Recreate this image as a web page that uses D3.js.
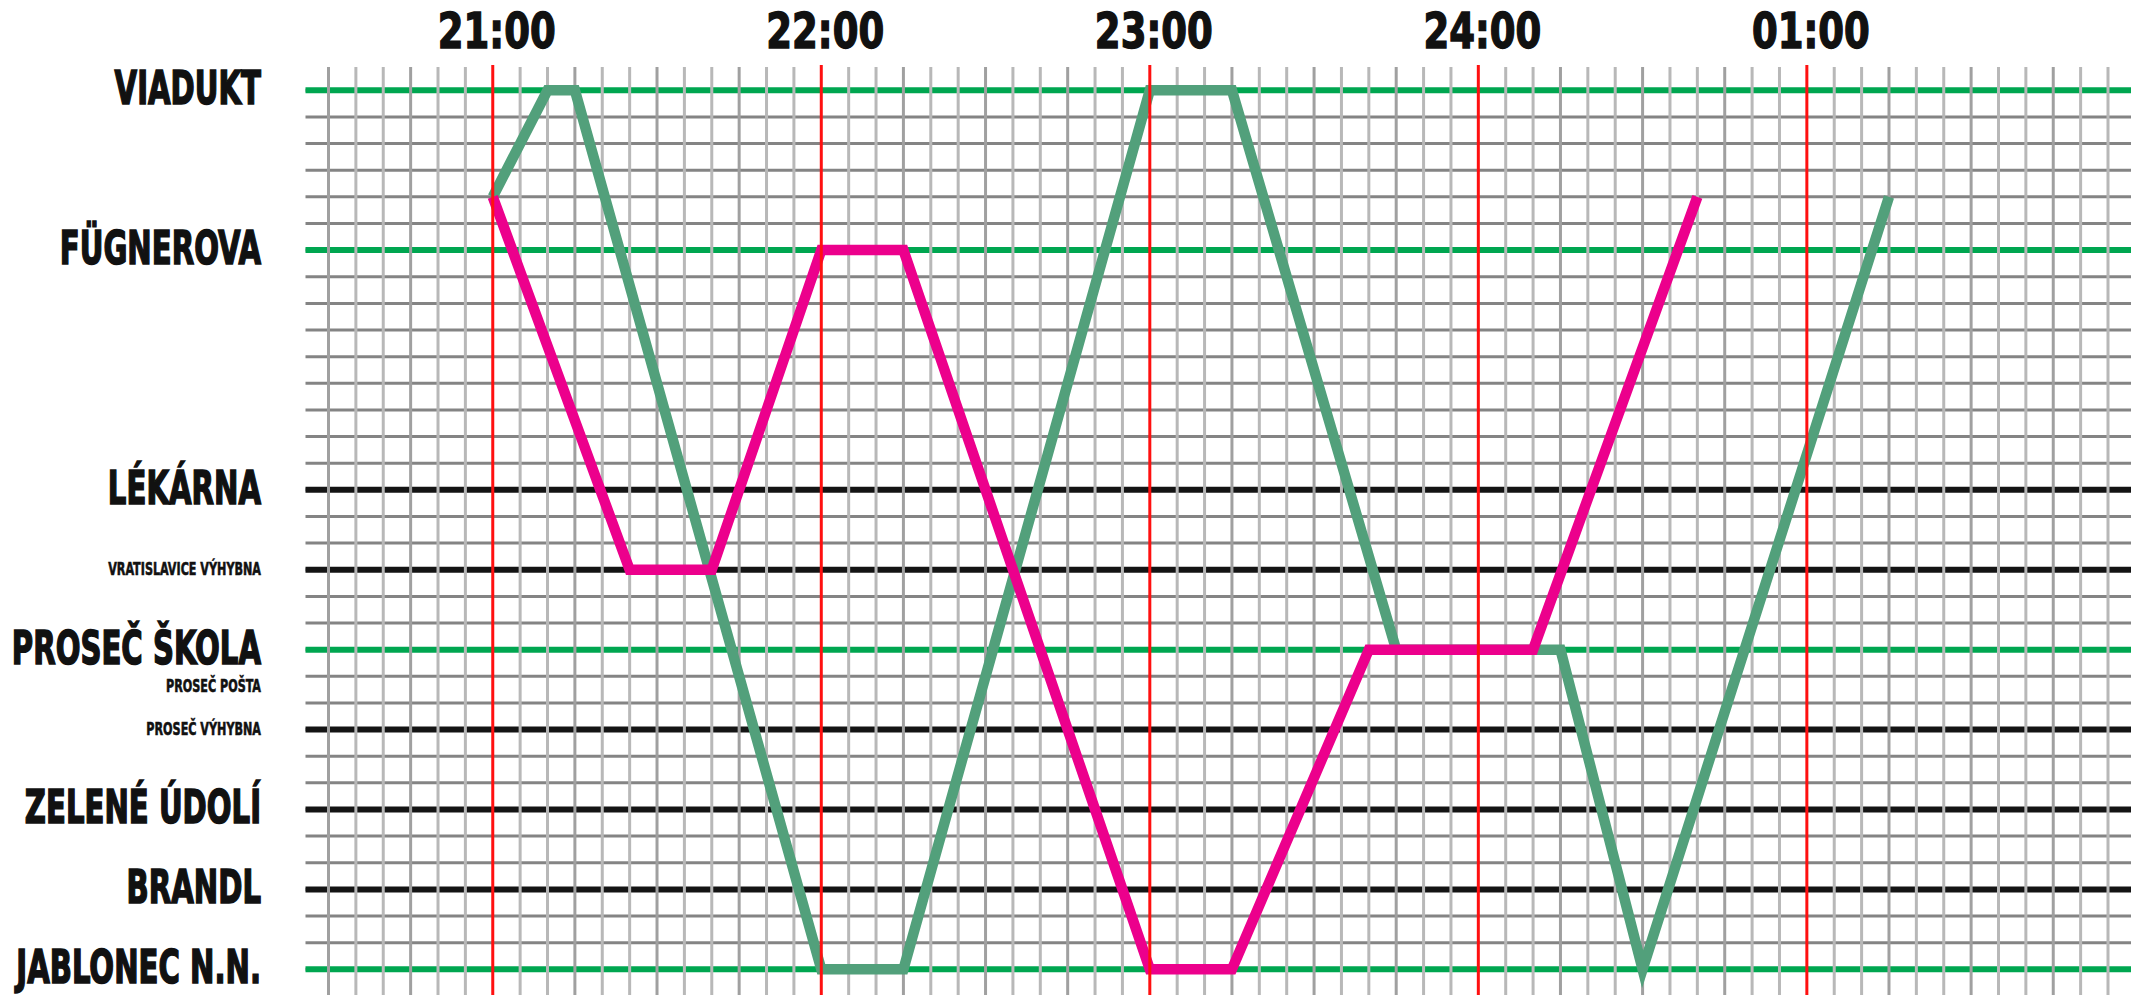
<!DOCTYPE html>
<html>
<head>
<meta charset="utf-8">
<script src="https://cdn.jsdelivr.net/npm/d3@7"></script>
<style>
  body { margin: 0; background: #fff; }
  text { font-family: "Liberation Sans Narrow", "DejaVu Sans Condensed", "Liberation Sans", sans-serif; font-weight: bold; fill: #111; stroke: #111; }
</style>
</head>
<body>
<div id="chart"></div>
<script>
// stations: position along the line (grid rows), kind of stop
const stations = ["VIADUKT", "FÜGNEROVA", "LÉKÁRNA", "VRATISLAVICE VÝHYBNA", "PROSEČ ŠKOLA",
                  "PROSEČ POŠTA", "PROSEČ VÝHYBNA", "ZELENÉ ÚDOLÍ", "BRANDL", "JABLONEC N.N."];
const stationPos = [0, 6, 15, 18, 21, 22, 24, 27, 30, 33];
const stationKind = ["main", "main", "halt", "loop", "main", "minor", "loop", "halt", "halt", "main"];

// hour marks, minutes after 21:00
const hourMinutes = [0, 60, 120, 180, 240];
const hourLabels = ["21:00", "22:00", "23:00", "24:00", "01:00"];

// green train (minutes after 21:00, position)
const greenTimes = [0, 10, 15, 60, 75, 120, 135, 165, 195, 210, 255];
const greenPos   = [4, 0, 0, 33, 33, 0, 0, 21, 21, 33, 4];

// magenta train
const pinkTimes = [0, 25, 40, 60, 75, 120, 135, 160, 190, 220];
const pinkPos   = [4, 18, 18, 6, 6, 33, 33, 21, 21, 4];

const width = 2142, height = 995;
const svg = d3.select("#chart").append("svg")
    .attr("width", width)
    .attr("height", height);

const x = d3.scaleLinear().domain([-30, 295]).range([328.5, 2108]);
const y = d3.scaleLinear().domain([0, 33]).range([90.3, 969.3]);

const lineLeft = x(-30) - 23, lineRight = x(295) + 23;

// horizontal grid
svg.append("g").selectAll("line")
    .data(d3.range(0, 34))
    .enter().append("line")
    .attr("x1", lineLeft).attr("x2", lineRight)
    .attr("y1", d => y(d)).attr("y2", d => y(d))
    .attr("stroke", "#848484")
    .attr("stroke-width", 3);

// station lines
const kindColor = d3.scaleOrdinal()
    .domain(["main", "halt", "loop", "minor"])
    .range(["#00a650", "#141414", "#141414", "none"]);

const stationData = stations.map((s, i) => ({ name: s, pos: stationPos[i], kind: stationKind[i] }));

svg.append("g").selectAll("line")
    .data(stationData.filter(d => d.kind !== "minor"))
    .enter().append("line")
    .attr("x1", lineLeft).attr("x2", lineRight)
    .attr("y1", d => y(d.pos)).attr("y2", d => y(d.pos))
    .attr("stroke", d => kindColor(d.kind))
    .attr("stroke-width", 6);

// vertical 5 minute grid
svg.append("g").selectAll("line")
    .data(d3.range(-30, 296, 5).filter(m => m % 60 !== 0))
    .enter().append("line")
    .attr("x1", d => x(d)).attr("x2", d => x(d))
    .attr("y1", 67).attr("y2", height)
    .attr("stroke", d => d % 15 === 0 ? "#a0a0a0" : "#b8b8b8")
    .attr("stroke-width", 3);

// trains
const line = d3.line().x(d => x(d[0])).y(d => y(d[1]));

function drawTrain(times, pos, color) {
    svg.append("path")
        .datum(times.map((t, i) => [t, pos[i]]))
        .attr("d", line)
        .attr("fill", "none")
        .attr("stroke", color)
        .attr("stroke-width", 10.5)
        .attr("stroke-linejoin", "miter");
}
drawTrain(greenTimes, greenPos, "#52a07b");
drawTrain(pinkTimes, pinkPos, "#ec008c");

// hour lines
svg.append("g").selectAll("line")
    .data(hourMinutes)
    .enter().append("line")
    .attr("x1", d => x(d)).attr("x2", d => x(d))
    .attr("y1", 65).attr("y2", height)
    .attr("stroke", "#ff1010")
    .attr("stroke-width", 3);

// hour labels
svg.append("g").selectAll("text")
    .data(hourMinutes)
    .enter().append("text")
    .attr("transform", d => `translate(${x(d) + 4},48) scale(0.84,1)`)
    .attr("text-anchor", "middle")
    .style("font-size", "49px")
    .style("stroke-width", 1.4)
    .text((d, i) => hourLabels[i]);

// station labels
const small = k => k === "loop" || k === "minor";
const labelDy = k => k === "minor" ? 16 : small(k) ? 5 : 14;
svg.append("g").selectAll("text")
    .data(stationData)
    .enter().append("text")
    .attr("transform", d => `translate(261,${y(d.pos) + labelDy(d.kind)}) scale(0.69,1)`)
    .attr("text-anchor", "end")
    .style("font-size", d => small(d.kind) ? "18px" : "47px")
    .style("stroke-width", d => small(d.kind) ? 0.6 : 1.6)
    .text(d => d.name);
</script>
</body>
</html>
